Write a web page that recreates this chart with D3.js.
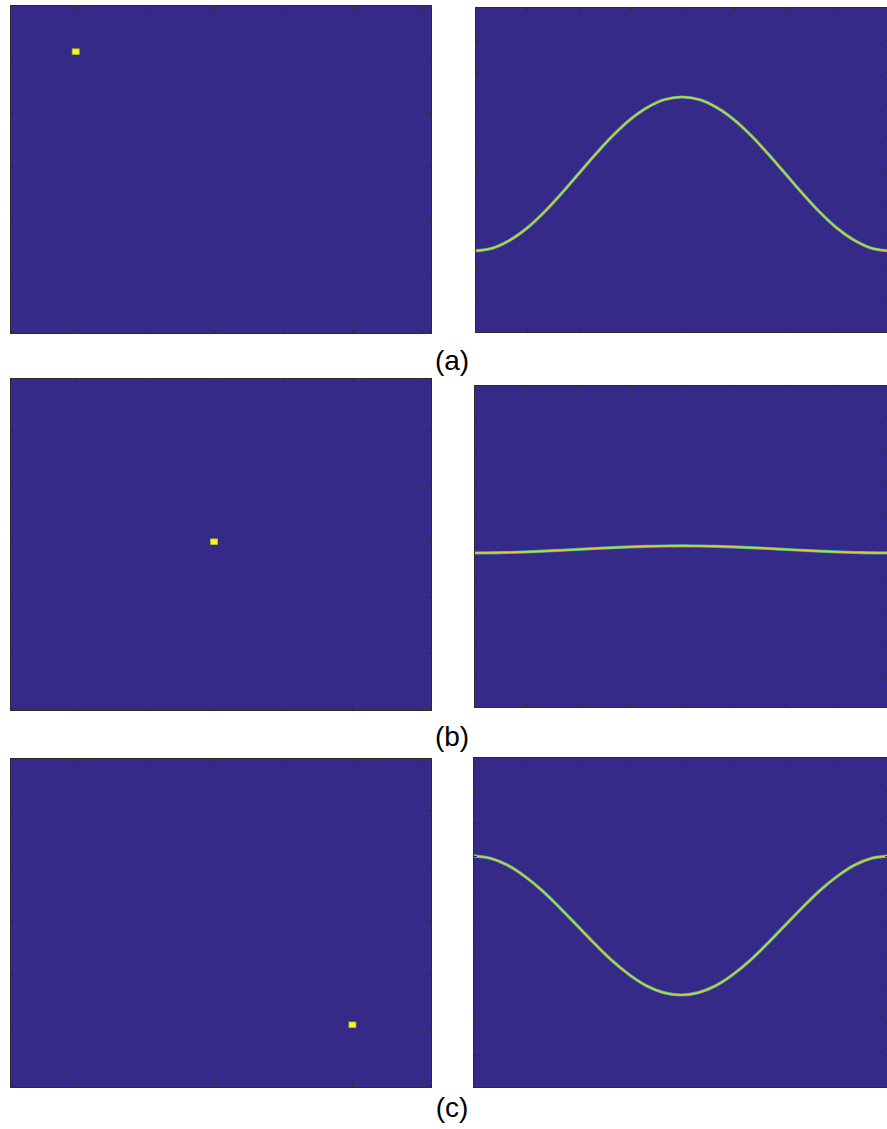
<!DOCTYPE html>
<html>
<head>
<meta charset="utf-8">
<script src="https://cdn.jsdelivr.net/npm/d3@7"></script>
<style>
  html, body { margin: 0; padding: 0; background: #ffffff; }
  svg { display: block; }
</style>
</head>
<body>
<svg id="fig" width="887" height="1129"></svg>
<script>
// ---- data ----
const panelLabels = ["(a)", "(b)", "(c)"];

// input images: one bright pixel each (1-based column / row)
const imgCols = 61;
const imgRows = 60;
const pointCols = [10, 30, 50];
const pointRows = [9, 30, 49];
const imgTicks = [10, 20, 30, 40, 50, 60];

// transform domain: one sinusoid per input point
const thetaDeg = [0, 15, 30, 45, 60, 75, 90, 105, 120, 135, 150, 165, 180,
                  195, 210, 225, 240, 255, 270, 285, 300, 315, 330, 345, 360];
const rhoA = [24.8, 24.0, 21.6, 17.9, 13.0, 7.3, 1.2, -4.9, -10.6, -15.5, -19.2, -21.6, -22.4,
              -21.6, -19.2, -15.5, -10.6, -4.9, 1.2, 7.3, 13.0, 17.9, 21.6, 24.0, 24.8];
const rhoB = [2.0, 1.96, 1.85, 1.68, 1.45, 1.18, 0.9, 0.62, 0.35, 0.12, -0.05, -0.16, -0.2,
              -0.16, -0.05, 0.12, 0.35, 0.62, 0.9, 1.18, 1.45, 1.68, 1.85, 1.96, 2.0];
const rhoC = [-20.1, -19.4, -17.3, -13.9, -9.6, -4.5, 0.9, 6.3, 11.4, 15.7, 19.1, 21.2, 21.9,
              21.2, 19.1, 15.7, 11.4, 6.3, 0.9, -4.5, -9.6, -13.9, -17.3, -19.4, -20.1];
const rhoTicks = [-40, -30, -20, -10, 0, 10, 20, 30, 40];
const thetaTicks = [45, 90, 135, 180, 225, 270, 315];

const rhoSeries = [rhoA, rhoB, rhoC];

// ---- layout ----
const layout = [
  { left: { x0: 10, x1: 432, y0: 5,   y1: 334 }, right: { x0: 475, x1: 889, y0: 7,   y1: 333 },  labelY: 370 },
  { left: { x0: 10, x1: 432, y0: 378, y1: 711 }, right: { x0: 474, x1: 889, y0: 385, y1: 708 },  labelY: 746 },
  { left: { x0: 10, x1: 432, y0: 758, y1: 1088 }, right: { x0: 473, x1: 889, y0: 757, y1: 1088 }, labelY: 1117 }
];

const BG = "#352a87";      // parula low end
const HOT = "#f9fb0e";     // parula high end
const FRAME = "#2b2b2b";
const TICK = 4;

const svg = d3.select("#fig");
svg.append("rect").attr("width", 887).attr("height", 1129).attr("fill", "#ffffff");

const defs = svg.append("defs");

function drawFrame(g, box, xScale, yScale, xTicks, yTicks) {
  const { x0, x1, y0, y1 } = box;
  // ticks pointing inward on all four sides
  const t = g.append("g").attr("stroke", FRAME).attr("stroke-width", 1);
  xTicks.forEach(v => {
    const x = Math.round(xScale(v)) + 0.5;
    t.append("line").attr("x1", x).attr("x2", x).attr("y1", y0).attr("y2", y0 + TICK);
    t.append("line").attr("x1", x).attr("x2", x).attr("y1", y1).attr("y2", y1 - TICK);
  });
  yTicks.forEach(v => {
    const y = Math.round(yScale(v)) + 0.5;
    t.append("line").attr("x1", x0).attr("x2", x0 + TICK).attr("y1", y).attr("y2", y);
    t.append("line").attr("x1", x1).attr("x2", x1 - TICK).attr("y1", y).attr("y2", y);
  });
  g.append("rect")
    .attr("x", x0 + 0.5).attr("y", y0 + 0.5)
    .attr("width", x1 - x0 - 1).attr("height", y1 - y0 - 1)
    .attr("fill", "none").attr("stroke", FRAME).attr("stroke-width", 1);
}

layout.forEach((row, i) => {
  // ---- left: input image ----
  const L = row.left;
  const gL = svg.append("g");
  const xL = d3.scaleLinear().domain([0.5, imgCols + 0.5]).range([L.x0, L.x1]);
  const yL = d3.scaleLinear().domain([0.5, imgRows + 0.5]).range([L.y0, L.y1]);
  gL.append("rect")
    .attr("x", L.x0).attr("y", L.y0)
    .attr("width", L.x1 - L.x0).attr("height", L.y1 - L.y0)
    .attr("fill", BG);
  const c = pointCols[i], r = pointRows[i];
  gL.append("rect")
    .attr("x", xL(c - 0.5)).attr("y", yL(r - 0.5))
    .attr("width", xL(c + 0.5) - xL(c - 0.5))
    .attr("height", yL(r + 0.5) - yL(r - 0.5))
    .attr("fill", HOT)
    .attr("stroke", "#b9c23a").attr("stroke-width", 0.8);
  drawFrame(gL, L, xL, yL, imgTicks, imgTicks);

  // ---- right: transform ----
  const R = row.right;
  const gR = svg.append("g");
  const clipId = "clip" + i;
  defs.append("clipPath").attr("id", clipId)
    .append("rect").attr("x", R.x0).attr("y", R.y0)
    .attr("width", R.x1 - R.x0).attr("height", R.y1 - R.y0);
  const xR = d3.scaleLinear().domain([0, 360]).range([R.x0, R.x1]);
  const yR = d3.scaleLinear().domain([-50, 50]).range([R.y0, R.y1]);
  gR.append("rect")
    .attr("x", R.x0).attr("y", R.y0)
    .attr("width", R.x1 - R.x0).attr("height", R.y1 - R.y0)
    .attr("fill", BG);

  const pts = thetaDeg.map((th, k) => [th, rhoSeries[i][k]]);
  const line = d3.line()
    .x(d => xR(d[0]))
    .y(d => yR(d[1]))
    .curve(d3.curveCatmullRom.alpha(0.5));
  const gc = gR.append("g").attr("clip-path", `url(#${clipId})`).attr("fill", "none");
  gc.append("path").attr("d", line(pts)).attr("stroke", "#27b4ae").attr("stroke-width", 3.2);
  gc.append("path").attr("d", line(pts)).attr("stroke", "#b4c73e").attr("stroke-width", 2.0);
  gc.append("path").attr("d", line(pts)).attr("stroke", "#f2c63c").attr("stroke-width", 1.0);

  drawFrame(gR, R, xR, yR, thetaTicks, rhoTicks);

  // ---- caption ----
  svg.append("text")
    .attr("x", 452).attr("y", row.labelY)
    .attr("text-anchor", "middle")
    .attr("font-family", "'Liberation Sans', Arial, sans-serif")
    .attr("font-size", 28)
    .attr("fill", "#000000")
    .text(panelLabels[i]);
});
</script>
</body>
</html>
